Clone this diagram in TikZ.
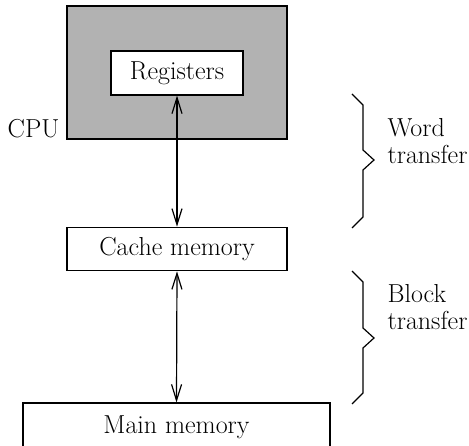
\documentclass[tikz,border=0pt]{standalone}
\usetikzlibrary{arrows.meta}
\begin{document}
\begin{tikzpicture}[x=1pt,y=-1pt,
  line width=1.2pt,
  lbl/.style={font=\rmfamily\fontsize{26}{27}\selectfont, inner sep=0pt},
  unit/.style={draw, lbl, rectangle, minimum width=#1, anchor=center},
  link/.style={{Straight Barb[length=16pt,width=10pt]}-{Straight Barb[length=16pt,width=10pt]}},
  brace/.style={line width=1.2pt, line join=miter},
  grey/.style={fill=black!30}
]
\useasboundingbox (0,0) rectangle (469,446);
\clip (0,0) rectangle (469,446);

% processor with its register file
\node[draw, grey, minimum width=220pt, minimum height=133pt, inner sep=0pt] (cpu) at (177,72.5) {};
\node[unit=132pt, fill=white, minimum height=44pt] (reg) at (177,73) {Registers};
\node[lbl, anchor=base east] (cpulbl) at (60,138) {CPU};

% cache and main memory
\node[unit=220pt, fill=white, minimum height=43.5pt] (cache) at (177,249) {Cache memory};
\node[unit=307pt, minimum height=48pt] (main) at (176.5,427) {Main memory};

% transfer links
\draw[link] (reg.south) -- (cache.north);
\draw[link] (cache.south) -- (main.north);

% braces with their labels
\draw[brace] (352,94) -- (363,105) -- (363,150) -- (374,160) -- (363,170) -- (363,217) -- (352,228);
\node[lbl, anchor=base west, align=left] (word) at (387,164) {Word\\transfer};
\draw[brace] (352,271) -- (363,282) -- (363,328) -- (374,338) -- (363,348) -- (363,393) -- (352,404);
\node[lbl, anchor=base west, align=left] (block) at (387,330) {Block\\transfer};
\end{tikzpicture}
\end{document}
